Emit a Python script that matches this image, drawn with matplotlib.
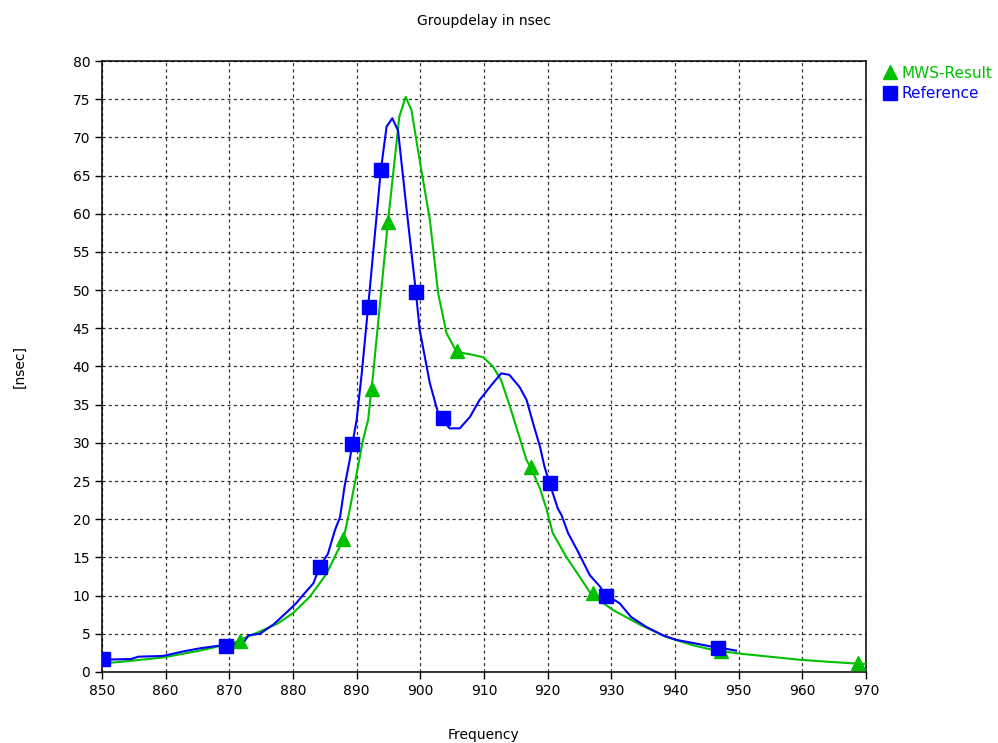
import matplotlib
matplotlib.use("Agg")
import matplotlib.pyplot as plt

# MWS-Result curve (green)
mws_freq = [850.0, 855.0, 859.6, 865.4, 870.6, 874.8, 877.5, 880.0, 882.7, 885.3,
            886.8, 887.9, 888.9, 890.0, 891.0, 891.8, 892.6, 894.9, 896.7, 897.7,
            898.6, 899.9, 901.5, 902.8, 904.1, 905.7, 907.8, 909.9, 911.4, 912.7,
            914.1, 915.4, 916.7, 917.4, 918.8, 919.8, 920.8, 922.9, 925.0, 926.9,
            930.3, 934.5, 938.6, 942.8, 945.9, 950.2, 954.9, 959.6, 963.8, 968.5, 970.0]
mws_delay = [1.1, 1.5, 1.9, 2.8, 3.8, 5.3, 6.3, 7.7, 9.9, 12.9,
             15.5, 17.3, 21.2, 26.0, 30.4, 33.0, 39.1, 58.8, 72.7, 75.3,
             73.6, 67.0, 59.2, 49.6, 44.4, 41.9, 41.6, 41.2, 40.0, 38.2,
             34.7, 31.2, 27.7, 26.7, 24.0, 21.4, 18.2, 15.1, 12.5, 10.1,
             8.1, 6.2, 4.6, 3.5, 2.9, 2.4, 2.0, 1.6, 1.35, 1.1, 1.05]
mws_mark_freq = [871.7, 887.9, 892.4, 894.9, 905.8, 917.4, 927.2, 947.2, 968.7]
mws_mark_delay = [4.1, 17.4, 37.0, 58.9, 42.0, 26.8, 10.3, 2.7, 1.2]

# Reference curve (blue)
ref_freq = [850.0, 854.6, 855.7, 859.6, 862.8, 865.4, 868.0, 869.5, 872.2, 873.0,
            874.8, 876.9, 879.0, 880.5, 881.6, 883.2, 884.2, 885.5, 886.6, 887.4,
            888.1, 888.9, 889.3, 890.0, 890.8, 891.8, 893.8, 894.7, 895.6, 896.5,
            897.8, 899.3, 899.9, 901.5, 902.8, 903.5, 904.6, 906.2, 907.8, 909.3,
            911.2, 912.7, 914.0, 915.6, 916.7, 917.7, 918.8, 919.5, 920.3, 921.6,
            922.2, 923.2, 924.8, 926.6, 928.2, 929.1, 931.3, 933.1, 935.5, 938.1,
            940.2, 942.8, 945.9, 947.5, 949.6]
ref_delay = [1.6, 1.7, 2.0, 2.1, 2.7, 3.1, 3.4, 3.5, 3.8, 4.8,
             5.0, 6.2, 7.8, 9.0, 10.1, 11.6, 13.8, 15.5, 18.6, 20.3,
             24.3, 27.7, 29.8, 33.0, 39.1, 47.8, 65.7, 71.4, 72.5, 70.9,
             60.9, 49.8, 44.8, 37.8, 33.9, 33.0, 31.9, 31.9, 33.4, 35.6,
             37.6, 39.1, 38.9, 37.3, 35.6, 32.6, 29.5, 26.9, 24.7, 21.4,
             20.5, 18.2, 15.7, 12.7, 11.2, 10.1, 9.0, 7.2, 5.9, 4.8,
             4.2, 3.8, 3.3, 3.1, 2.8]
ref_mark_freq = [850.2, 869.5, 884.2, 889.2, 891.9, 893.8, 899.3, 903.5, 920.3, 929.1, 946.7]
ref_mark_delay = [1.7, 3.4, 13.7, 29.8, 47.8, 65.7, 49.7, 33.2, 24.7, 10.0, 3.2]

green = "#00c000"
blue = "#0000ff"

fig = plt.figure(figsize=(9.98, 7.43), dpi=100)
ax = fig.add_axes([0.1022, 0.0956, 0.7655, 0.8223])

ax.plot(mws_freq, mws_delay, color=green, lw=1.5, zorder=3)
ax.plot(ref_freq, ref_delay, color=blue, lw=1.5, zorder=4)
ax.plot(mws_mark_freq, mws_mark_delay, ls="none", marker="^", ms=10,
        color=green, label="MWS-Result", zorder=5)
ax.plot(ref_mark_freq, ref_mark_delay, ls="none", marker="s", ms=10,
        color=blue, label="Reference", zorder=6)

ax.set_xlim(850, 970)
ax.set_ylim(0, 80)
ax.set_xticks(range(850, 971, 10))
ax.set_yticks(range(0, 81, 5))
ax.tick_params(labelsize=10, length=5, width=1, direction="out", colors="black")
ax.grid(True, color="black", ls=(0, (2.5, 2.5)), lw=0.9, alpha=0.8)
for s in ax.spines.values():
    s.set_linewidth(1.1)
    s.set_color("black")

ax.set_title("Groupdelay in nsec", fontsize=10, pad=26)
ax.set_xlabel("Frequency", fontsize=10)
ax.set_ylabel("[nsec]", fontsize=10)
ax.xaxis.set_label_coords(0.5, -0.092)
ax.yaxis.set_label_coords(-0.099, 0.5)

leg = ax.legend(loc="upper left", bbox_to_anchor=(1.013, 1.005), frameon=False,
                fontsize=11, handlelength=0.8, handletextpad=0.4,
                labelspacing=0.35, borderaxespad=0.3, borderpad=0.2,
                labelcolor=[green, blue])

fig.savefig("out.png", dpi=100)
